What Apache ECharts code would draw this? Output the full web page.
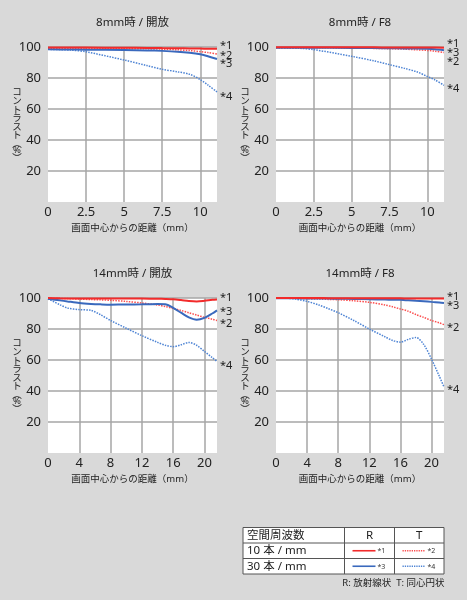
<!DOCTYPE html>
<html><head><meta charset="utf-8">
<script src="https://cdn.jsdelivr.net/npm/echarts@6/dist/echarts.min.js"></script>
<style>html,body{margin:0;padding:0;background:#d9d9d9}#c{width:467px;height:600px}</style>
</head><body><div id="c"></div>
<script>
// ---- data ----
const titles = ['8mm時 / 開放', '8mm時 / F8', '14mm時 / 開放', '14mm時 / F8'];
const xName = '画面中心からの距離（mm）';
const seriesNames = ['*1', '*2', '*3', '*4'];

const x8 = [0, 1.5, 2.5, 5, 6.5, 7.5, 8.5, 9.3, 10, 10.5, 11.1];
const w8open_1 = [99.6, 99.6, 99.6, 99.5, 99.4, 99.3, 99.2, 99.1, 99.0, 98.9, 98.8];
const w8open_2 = [99.0, 99.0, 99.0, 98.9, 98.8, 98.6, 98.2, 97.7, 97.0, 96.4, 95.5];
const w8open_3 = [98.5, 98.4, 98.3, 98.0, 97.8, 97.5, 97.0, 96.3, 95.3, 94.0, 92.3];
const w8open_4 = [98.5, 98.0, 96.9, 91.6, 88.0, 85.6, 84.0, 82.4, 79.0, 75.5, 71.0];

const w8f8_1 = [99.8, 99.8, 99.8, 99.8, 99.8, 99.7, 99.7, 99.7, 99.6, 99.6, 99.5];
const w8f8_2 = [99.5, 99.5, 99.5, 99.3, 99.1, 98.9, 98.6, 98.2, 97.8, 97.3, 96.4];
const w8f8_3 = [99.5, 99.5, 99.5, 99.4, 99.3, 99.2, 99.1, 99.0, 98.8, 98.5, 97.9];
const w8f8_4 = [99.6, 99.2, 98.3, 94.0, 91.0, 88.6, 86.2, 84.0, 81.0, 78.8, 75.3];

const x14 = [0, 1.5, 2.5, 4, 5.5, 6.7, 8, 10, 12, 14, 15, 16, 17, 18, 19, 20, 21, 21.6];
const t14open_1 = [100, 99.8, 99.7, 99.6, 99.6, 99.6, 99.6, 99.6, 99.6, 99.5, 99.4, 99.2, 98.7, 98.1, 97.8, 98.2, 98.8, 99.0];
const t14open_2 = [100, 99.8, 99.6, 99.3, 99.0, 98.8, 98.5, 97.8, 96.8, 95.5, 94.5, 93.3, 92.0, 90.5, 89.0, 87.5, 86.3, 85.5];
const t14open_3 = [99.5, 98.5, 97.8, 96.8, 96.2, 95.9, 95.7, 95.8, 95.9, 96.2, 96.0, 93.6, 90.5, 87.5, 86.0, 87.2, 90.0, 92.0];
const t14open_4 = [99.5, 95.7, 93.5, 92.5, 92.0, 89.2, 85.5, 80.5, 75.7, 71.4, 69.5, 68.6, 69.8, 71.3, 69.5, 65.5, 61.5, 59.1];

const t14f8_1 = [100, 100, 100, 100, 100, 99.9, 99.9, 99.9, 99.9, 99.8, 99.8, 99.8, 99.7, 99.7, 99.7, 99.6, 99.6, 99.6];
const t14f8_2 = [100, 99.9, 99.8, 99.5, 99.3, 99.1, 98.9, 98.2, 97.2, 95.5, 94.3, 92.9, 91.5, 89.3, 87.5, 85.5, 84.0, 82.8];
const t14f8_3 = [99.8, 99.8, 99.8, 99.7, 99.7, 99.6, 99.5, 99.4, 99.2, 99.0, 98.9, 98.8, 98.5, 98.2, 97.9, 97.5, 97.1, 96.8];
const t14f8_4 = [100, 99.8, 99.3, 97.8, 95.5, 93.2, 90.5, 85.5, 80.0, 75.0, 72.6, 71.5, 73.3, 74.5, 70.0, 60.5, 49.5, 42.6];

const yTicks = [0, 20, 40, 60, 80, 100];

// ---- layout / style ----
const FONT = '"Noto Sans", "Noto Sans CJK JP", sans-serif';
const GRIDC = '#a6a6a6';
const TR = 'rgba(0,0,0,0)';
const panels = [
  {left: 48, top: 47, width: 169, xs: x8, xMax: 11.1, interval: 2.5,
   ys: [w8open_1, w8open_2, w8open_3, w8open_4], offs: [-3, 1.5, 4.5, 4.5]},
  {left: 276, top: 47, width: 168, xs: x8, xMax: 11.1, interval: 2.5,
   ys: [w8f8_1, w8f8_2, w8f8_3, w8f8_4], offs: [-4, 9.5, 2.5, 3.5]},
  {left: 48, top: 298, width: 169, xs: x14, xMax: 21.6, interval: 4,
   ys: [t14open_1, t14open_2, t14open_3, t14open_4], offs: [-1.5, 3.5, 1, 4]},
  {left: 276, top: 298, width: 168, xs: x14, xMax: 21.6, interval: 4,
   ys: [t14f8_1, t14f8_2, t14f8_3, t14f8_4], offs: [-2.2, 3.3, 2.7, 2.7]}
];
const H = 155;
const styles = [
  {color: '#f22b2b', type: 'solid', width: 2},
  {color: '#fb4f4f', type: [1.5, 1.2], width: 1.5},
  {color: '#3a69bd', type: 'solid', width: 2},
  {color: '#4e84d4', type: [1.5, 1.2], width: 1.5}
];

const grid = [], xAxis = [], yAxis = [], series = [], graphic = [];
panels.forEach((p, i) => {
  grid.push({left: p.left, top: p.top, width: p.width, height: H, show: true,
    backgroundColor: '#ffffff', borderWidth: 0});
  const nX = Math.floor(p.xMax / p.interval) + 1;
  const xColors = [TR];
  for (let k = 1; k < nX; k++) xColors.push(GRIDC);
  xColors.push(TR);
  xAxis.push({gridIndex: i, type: 'value', min: 0, max: p.xMax, interval: p.interval,
    axisLine: {show: false}, axisTick: {show: false},
    axisLabel: {fontSize: 13, color: '#222', margin: 4, showMaxLabel: false, fontFamily: FONT},
    splitLine: {show: true, lineStyle: {color: xColors, width: 1.5}},
    name: xName, nameLocation: 'middle', nameGap: 22,
    nameTextStyle: {fontSize: 9.5, color: '#222', fontFamily: FONT}});
  yAxis.push({gridIndex: i, type: 'value', min: yTicks[0], max: yTicks[yTicks.length - 1], interval: 20,
    axisLine: {show: false}, axisTick: {show: false},
    axisLabel: {fontSize: 13, color: '#222', margin: 7, fontFamily: FONT,
      formatter: v => (v === 0 ? '' : String(v))},
    splitLine: {show: true, lineStyle: {color: [TR, GRIDC, GRIDC, GRIDC, GRIDC, GRIDC], width: 1.5}}});
  p.ys.forEach((arr, s) => {
    series.push({type: 'line', xAxisIndex: i, yAxisIndex: i, name: seriesNames[s],
      data: p.xs.map((x, k) => [x, arr[k]]), showSymbol: false, smooth: 0.3,
      lineStyle: {color: styles[s].color, type: styles[s].type, width: styles[s].width},
      z: s === 0 ? 6 : (s === 2 ? 5 : 4),
      endLabel: {show: true, formatter: seriesNames[s], distance: 3, offset: [0, p.offs[s]],
        fontSize: 11, color: '#222', fontFamily: FONT}});
  });
  graphic.push({type: 'text', x: p.left + p.width / 2, y: p.top - 24,
    style: {text: titles[i], fill: '#222', font: '11.5px ' + FONT, textAlign: 'center', textVerticalAlign: 'middle'}});
  graphic.push({type: 'text', x: p.left - 31, y: p.top + H / 2,
    style: {text: '{a|コ}\n{a|ン}\n{a|ト}\n{a|ラ}\n{a|ス}\n{a|ト}\n{p|︵}\n{a|%}\n{p|︶}',
      fill: '#222', align: 'center', verticalAlign: 'middle',
      rich: {a: {fontSize: 9.5, lineHeight: 8.6, fontFamily: FONT, fill: '#222', align: 'center'},
             p: {fontSize: 9.5, lineHeight: 6, fontFamily: '"Noto Sans CJK JP"', fill: '#222', align: 'center'}}}});
});

// ---- legend table ----
const T = {x0: 243, x1: 344.5, x2: 394.5, x3: 444, y0: 527.5, y1: 543, y2: 558.5, y3: 574};
const tStroke = {stroke: '#555', lineWidth: 1};
graphic.push({type: 'rect', shape: {x: T.x0, y: T.y0, width: T.x3 - T.x0, height: T.y3 - T.y0},
  style: {fill: '#fff', stroke: '#555', lineWidth: 1}});
[T.y1, T.y2].forEach(y => graphic.push({type: 'line', shape: {x1: T.x0, y1: y, x2: T.x3, y2: y}, style: tStroke}));
[T.x1, T.x2].forEach(x => graphic.push({type: 'line', shape: {x1: x, y1: T.y0, x2: x, y2: T.y3}, style: tStroke}));
const rowTexts = ['空間周波数', '10 本 / mm', '30 本 / mm'];
const rowY = [(T.y0 + T.y1) / 2, (T.y1 + T.y2) / 2, (T.y2 + T.y3) / 2];
rowTexts.forEach((t, r) => graphic.push({type: 'text', x: T.x0 + 4, y: rowY[r],
  style: {text: t, fill: '#222', font: '11.5px ' + FONT, textVerticalAlign: 'middle'}}));
graphic.push({type: 'text', x: (T.x1 + T.x2) / 2, y: rowY[0],
  style: {text: 'R', fill: '#222', font: '11.5px ' + FONT, textAlign: 'center', textVerticalAlign: 'middle'}});
graphic.push({type: 'text', x: (T.x2 + T.x3) / 2, y: rowY[0],
  style: {text: 'T', fill: '#222', font: '11.5px ' + FONT, textAlign: 'center', textVerticalAlign: 'middle'}});
[[0, 1], [2, 3]].forEach((pair, r) => {
  pair.forEach((s, c) => {
    const cx = c === 0 ? T.x1 : T.x2;
    const y = rowY[r + 1];
    graphic.push({type: 'line', shape: {x1: cx + 8, y1: y, x2: cx + 31, y2: y},
      style: {stroke: styles[s].color, lineWidth: styles[s].width === 2 ? 1.6 : 1.3,
        lineDash: styles[s].type === 'solid' ? null : [1.3, 1]}});
    graphic.push({type: 'text', x: cx + 33, y: y + 0.5,
      style: {text: seriesNames[s], fill: '#333', font: '7px ' + FONT, textVerticalAlign: 'middle'}});
  });
});
graphic.push({type: 'text', x: 444.5, y: 583,
  style: {text: 'R: 放射線状  T: 同心円状', fill: '#222', font: '9.5px ' + FONT, textAlign: 'right', textVerticalAlign: 'middle'}});

const chart = echarts.init(document.getElementById('c'), null, {renderer: 'canvas'});
chart.setOption({
  backgroundColor: '#d9d9d9',
  animation: false,
  textStyle: {fontFamily: FONT},
  grid, xAxis, yAxis, series, graphic
});
</script></body></html>
